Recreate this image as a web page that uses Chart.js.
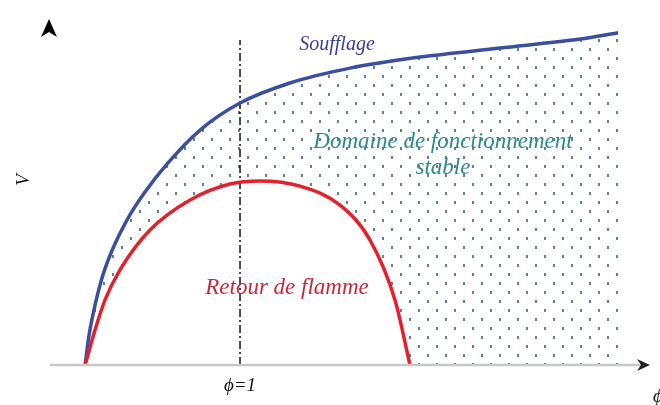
<!DOCTYPE html>
<html>
<head>
<meta charset="utf-8">
<script src="https://cdn.jsdelivr.net/npm/chart.js@4"></script>
<style>
  html, body { margin: 0; padding: 0; background: #fff; }
  #wrap { width: 660px; height: 405px; }
</style>
</head>
<body>
<div id="wrap"><canvas id="chart"></canvas></div>
<script>
// courbe de soufflage (limite haute)
const soufflageX = [0.193, 0.214, 0.245, 0.286, 0.339, 0.411, 0.505, 0.625, 0.792, 1.0, 1.260, 1.573, 1.938, 2.354, 2.771, 2.969];
const soufflageY = [0, 0.87, 1.73, 2.60, 3.38, 4.19, 5.00, 5.84, 6.79, 7.57, 8.15, 8.58, 8.90, 9.16, 9.42, 9.60];

// courbe de retour de flamme
const retourX = [0.193, 0.245, 0.297, 0.375, 0.531, 0.740, 0.948, 1.104, 1.3125, 1.521, 1.677, 1.807, 1.885];
const retourY = [0, 1.01, 1.88, 2.75, 3.90, 4.77, 5.23, 5.32, 5.17, 4.62, 3.61, 1.88, 0];

// richesse phi = 1
const phiTick = [1];
const phiLineY = [0, 9.39];

const labels = {
  soufflage: "Soufflage",
  domaine: ["Domaine de fonctionnement", "stable"],
  retour: "Retour de flamme",
  tick: "\u03d5=1",
  xTitle: "\u03d5",
  yTitle: "V"
};

const toPoints = (xs, ys) => xs.map((x, i) => ({ x: x, y: ys[i] }));

// motif pointillé du domaine stable
function dotPattern() {
  const c = document.createElement("canvas");
  c.width = 18; c.height = 18;
  const g = c.getContext("2d");
  g.fillStyle = "rgba(60,95,105,0.8)";
  g.fillRect(4, 3, 2, 3);
  g.fillRect(13, 12, 2, 3);
  return document.getElementById("chart").getContext("2d").createPattern(c, "repeat");
}

const decor = {
  id: "decor",
  afterDraw(chart) {
    const ctx = chart.ctx;
    const xs = chart.scales.x, ys = chart.scales.y;
    const y0 = ys.getPixelForValue(0);
    const left = chart.chartArea.left, right = chart.chartArea.right;
    ctx.save();

    // axe x
    ctx.strokeStyle = "#c8c8c8";
    ctx.lineWidth = 2.5;
    ctx.beginPath();
    ctx.moveTo(left + 2, y0);
    ctx.lineTo(right - 8, y0);
    ctx.stroke();

    // flèches
    ctx.fillStyle = "#222";
    ctx.beginPath();
    ctx.moveTo(right, y0);
    ctx.lineTo(right - 13, y0 - 6);
    ctx.lineTo(right - 9, y0);
    ctx.lineTo(right - 13, y0 + 6);
    ctx.closePath();
    ctx.fill();

    const top = chart.chartArea.top;
    ctx.fillStyle = "#000";
    ctx.beginPath();
    ctx.moveTo(left + 1, top);
    ctx.lineTo(left + 9, top + 18);
    ctx.lineTo(left + 1, top + 13);
    ctx.lineTo(left - 7, top + 18);
    ctx.closePath();
    ctx.fill();

    ctx.textAlign = "center";
    ctx.textBaseline = "middle";

    ctx.font = "italic 20px 'Liberation Serif', serif";
    ctx.fillStyle = "#3b3d96";
    ctx.fillText(labels.soufflage, 337, 45);

    ctx.font = "italic 23px 'Liberation Serif', serif";
    ctx.fillStyle = "#2b8a8a";
    ctx.fillText(labels.domaine[0], 443, 142);
    ctx.fillText(labels.domaine[1], 443, 168);

    ctx.font = "italic 23px 'Liberation Serif', serif";
    ctx.fillStyle = "#c8283a";
    ctx.fillText(labels.retour, 287, 288);

    ctx.font = "italic 19px 'Liberation Serif', serif";
    ctx.fillStyle = "#111";
    phiTick.forEach(v => ctx.fillText(labels.tick, xs.getPixelForValue(v), 386));
    ctx.fillText(labels.xTitle, 658, 397);

    ctx.translate(24, 180);
    ctx.rotate(-Math.PI / 2);
    ctx.font = "italic 19px 'Liberation Serif', serif";
    ctx.fillText(labels.yTitle, 0, 0);
    ctx.restore();
  }
};

new Chart(document.getElementById("chart"), {
  type: "line",
  data: {
    datasets: [
      {
        label: "Retour de flamme",
        data: toPoints(retourX, retourY),
        borderColor: "#e3212d",
        borderWidth: 3.5,
        backgroundColor: "#ffffff",
        fill: "origin",
        pointRadius: 0,
        cubicInterpolationMode: "monotone"
      },
      {
        label: "Soufflage",
        data: toPoints(soufflageX, soufflageY),
        borderColor: "#3a4f9e",
        borderWidth: 3.5,
        backgroundColor: dotPattern(),
        fill: "origin",
        pointRadius: 0,
        cubicInterpolationMode: "monotone"
      },
      {
        label: "phi=1",
        data: toPoints([phiTick[0], phiTick[0]], phiLineY),
        borderColor: "#111",
        borderWidth: 1.5,
        borderDash: [8, 3, 2, 3],
        fill: false,
        pointRadius: 0
      }
    ]
  },
  options: {
    responsive: true,
    maintainAspectRatio: false,
    animation: false,
    layout: { padding: { left: 48, right: 10, top: 19, bottom: 40 } },
    plugins: {
      legend: { display: false },
      tooltip: { enabled: false },
      filler: { drawTime: "beforeDatasetsDraw" }
    },
    scales: {
      x: { type: "linear", min: 0, max: 3.135, display: false },
      y: { min: 0, max: 10, display: false }
    }
  },
  plugins: [decor]
});
</script>
</body>
</html>
